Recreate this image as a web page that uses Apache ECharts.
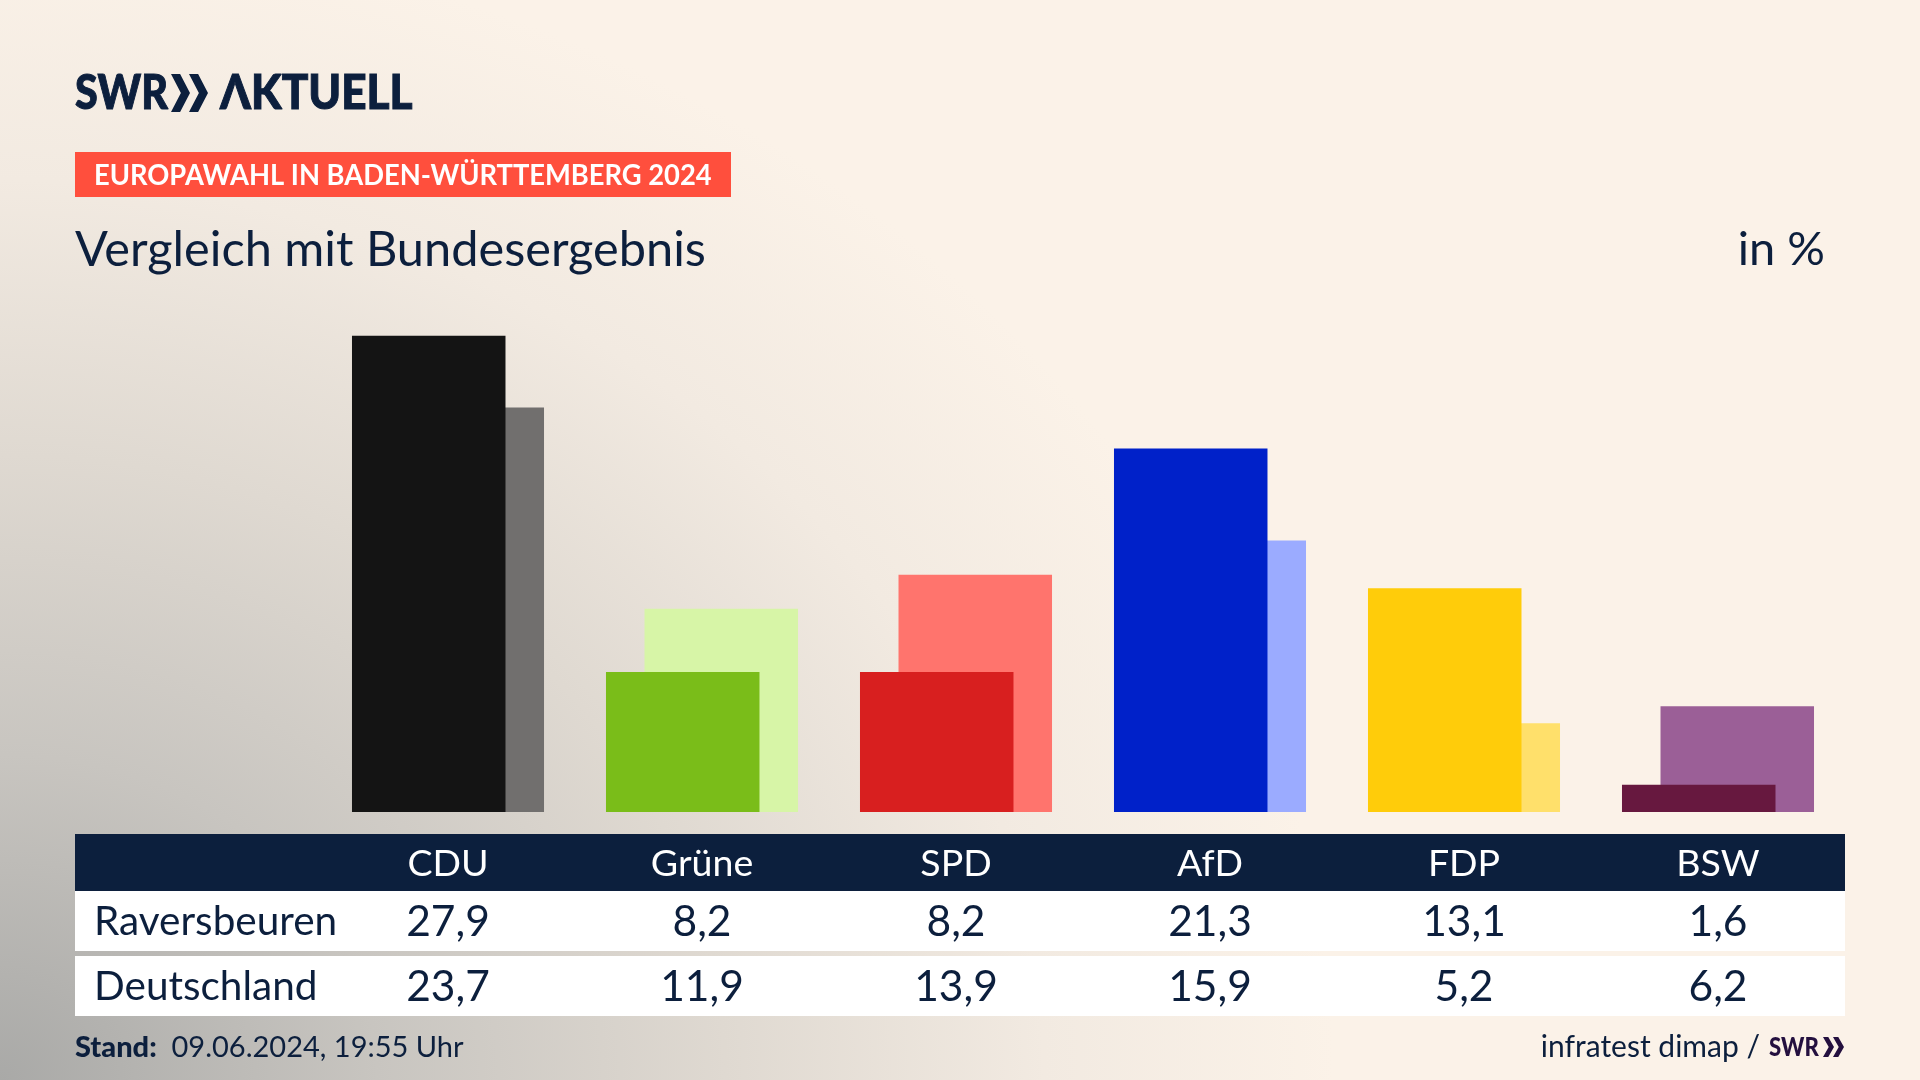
<!DOCTYPE html>
<html>
<head>
<meta charset="utf-8">
<title>Vergleich mit Bundesergebnis</title>
<script src="https://cdn.jsdelivr.net/npm/echarts@6/dist/echarts.min.js"></script>
<style>
html, body { margin: 0; padding: 0; }
#main {
    width: 1920px; height: 1080px;
    background: radial-gradient(ellipse 1450px 1250px at 0 100%, #a9a9a7 0%, #c8c5c0 26%, #dfd9d1 50%, #f2eae1 72%, #fbf2e8 92%);
}
</style>
</head>
<body>
<div id="main"></div>
<script>
var parties = ['CDU', 'Grüne', 'SPD', 'AfD', 'FDP', 'BSW'];
var rows = ['Raversbeuren', 'Deutschland'];
var raversbeuren = [27.9, 8.2, 8.2, 21.3, 13.1, 1.6];
var deutschland = [23.7, 11.9, 13.9, 15.9, 5.2, 6.2];
var colorsStrong = ['#141414', '#7abd19', '#d81f1f', '#0021c9', '#ffcc0a', '#67183f'];
var colorsLight = ['#716f6e', '#d7f5a7', '#ff746d', '#9babff', '#ffe06b', '#9b5f97'];

var navy = '#0c1f3d';
var font = 'Lato';

// deutsches Komma
function fmt(v) {
    return v.toFixed(1).replace('.', ',');
}

var tableCells = [];
raversbeuren.forEach(function(v, i) { tableCells.push([i, 0, v]); });
deutschland.forEach(function(v, i) { tableCells.push([i, 1, v]); });

function chevron(x, y, w, h, color) {
    return {
        type: 'polygon',
        shape: { points: [[x, y], [x + w * 0.48, y], [x + w, y + h / 2], [x + w * 0.48, y + h], [x, y + h], [x + w * 0.52, y + h / 2]] },
        style: { fill: color }
    };
}

// sx: horizontale Stauchung, Lato ist breiter als die SWR-Schrift
function label(x, y, text, size, extra, sx) {
    var style = { x: 0, y: 0, text: text, fill: navy, font: size + 'px ' + font, verticalAlign: 'middle' };
    for (var k in extra) style[k] = extra[k];
    return { type: 'text', x: x, y: y, scaleX: sx || 1, style: style };
}

var chart = echarts.init(document.getElementById('main'));

chart.setOption({
    animation: false,
    textStyle: { fontFamily: font },
    graphic: { elements: [
        // Logo
        label(75, 94, 'SWR', 48, { font: '900 48px ' + font, stroke: navy, lineWidth: 1 }, 0.86),
        chevron(171, 74, 19, 38, navy),
        chevron(189, 74, 19, 38, navy),
        label(220, 94, 'ΛKTUELL', 48, { font: '900 48px ' + font, stroke: navy, lineWidth: 1 }, 0.92),
        // Dachzeile
        { type: 'rect', shape: { x: 75, y: 152, width: 656, height: 45 }, style: { fill: '#ff4f3d' } },
        label(94, 176, 'EUROPAWAHL IN BADEN-WÜRTTEMBERG 2024', 29, { fill: '#ffffff', font: 'bold 29px ' + font }, 0.942),
        // Titel
        label(75, 250, 'Vergleich mit Bundesergebnis', 48.7),
        label(1825, 250, 'in %', 47, { align: 'right' }),
        // Tabelle
        { type: 'rect', shape: { x: 75, y: 834, width: 1770, height: 57 }, style: { fill: navy } },
        { type: 'rect', shape: { x: 75, y: 891, width: 1770, height: 60 }, style: { fill: '#ffffff' } },
        { type: 'rect', shape: { x: 75, y: 956, width: 1770, height: 60 }, style: { fill: '#ffffff' } },
        // Fusszeile
        { type: 'text', style: {
            x: 75, y: 1048, verticalAlign: 'middle', fill: navy, font: '29px ' + font,
            text: '{b|Stand:}  09.06.2024, 19:55 Uhr',
            rich: { b: { font: '900 29px ' + font, fill: navy } }
        } },
        label(1760, 1047, 'infratest dimap /', 30, { align: 'right' }),
        label(1769, 1047, 'SWR', 27, { font: '900 27px ' + font, fill: '#24103f' }, 0.82),
        chevron(1823, 1037, 11, 20, '#24103f'),
        chevron(1833, 1037, 11, 20, '#24103f')
    ] },
    grid: [
        { left: 321, width: 1524, top: 334, height: 478 },
        { left: 321, width: 1524, top: 889.5, height: 130 }
    ],
    xAxis: [
        { gridIndex: 0, type: 'category', data: parties, axisLine: { show: false }, axisTick: { show: false }, axisLabel: { show: false } },
        {
            gridIndex: 1, type: 'category', data: parties, position: 'top',
            axisLine: { show: false }, axisTick: { show: false }, splitLine: { show: false },
            axisLabel: { color: '#ffffff', fontSize: 37.5, fontFamily: font, margin: 6, lineHeight: 40 }
        }
    ],
    yAxis: [
        { gridIndex: 0, type: 'value', min: 0, max: 28, show: false },
        {
            gridIndex: 1, type: 'category', data: rows, inverse: true,
            axisLine: { show: false }, axisTick: { show: false }, splitLine: { show: false },
            axisLabel: { color: navy, fontSize: 40.5, fontFamily: font, align: 'left', margin: 227 }
        }
    ],
    series: [
        {
            name: 'Raversbeuren', type: 'bar', xAxisIndex: 0, yAxisIndex: 0, data: raversbeuren,
            barWidth: 153.5, barGap: '-74.9%', z: 3,
            itemStyle: { color: function(p) { return colorsStrong[p.dataIndex]; } }
        },
        {
            name: 'Deutschland', type: 'bar', xAxisIndex: 0, yAxisIndex: 0, data: deutschland,
            barWidth: 153.5, z: 2,
            itemStyle: { color: function(p) { return colorsLight[p.dataIndex]; } }
        },
        {
            type: 'custom', xAxisIndex: 1, yAxisIndex: 1, data: tableCells, z: 5,
            renderItem: function(params, api) {
                var pt = api.coord([api.value(0), api.value(1)]);
                return { type: 'text', style: {
                    x: pt[0], y: pt[1], text: fmt(api.value(2)), fill: navy,
                    font: '42.5px ' + font, align: 'center', verticalAlign: 'middle'
                } };
            }
        }
    ]
});
</script>
</body>
</html>
